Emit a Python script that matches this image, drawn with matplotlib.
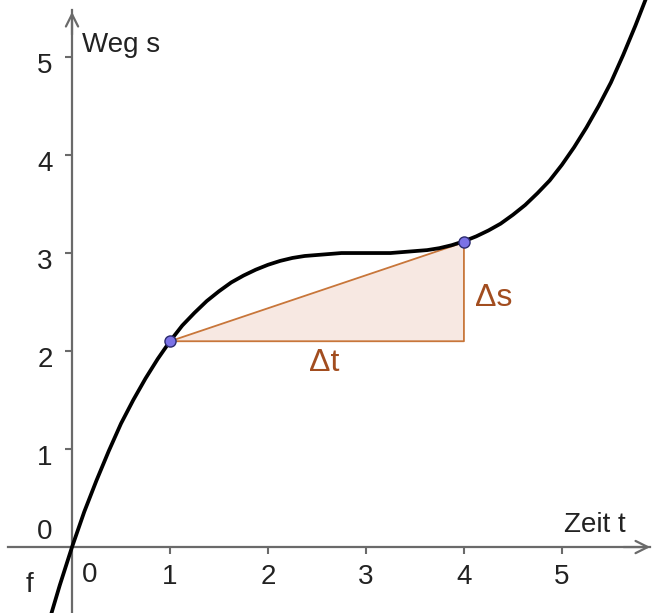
import matplotlib.pyplot as plt
import numpy as np
from matplotlib.transforms import ScaledTranslation

plt.rcParams['font.family'] = ['Liberation Sans', 'DejaVu Sans']

# curve s(t), values
t = np.array([-0.25, -0.125, 0.0, 0.125, 0.25, 0.375, 0.5, 0.625, 0.75, 0.875,
              1.0, 1.125, 1.25, 1.375, 1.5, 1.625, 1.75, 1.875, 2.0, 2.125,
              2.25, 2.375, 2.5, 2.625, 2.75, 2.875, 3.0, 3.125, 3.25, 3.375,
              3.5, 3.625, 3.75, 3.875, 4.0, 4.125, 4.25, 4.375, 4.5, 4.625,
              4.75, 4.875, 5.0, 5.125, 5.25, 5.375, 5.5, 5.625, 5.75, 5.875, 6.0])
s = np.array([-0.81, -0.39, 0.0, 0.36, 0.68, 0.98, 1.26, 1.50, 1.72, 1.92,
              2.10, 2.26, 2.39, 2.51, 2.61, 2.70, 2.77, 2.83, 2.88, 2.92,
              2.95, 2.97, 2.98, 2.99, 3.00, 3.00, 3.00, 3.00, 3.00, 3.01,
              3.02, 3.03, 3.05, 3.08, 3.12, 3.17, 3.23, 3.30, 3.39, 3.49,
              3.61, 3.74, 3.90, 4.08, 4.28, 4.50, 4.74, 5.02, 5.32, 5.64, 6.00])

# the two marked points
pts_t = [1, 4]
pts_s = [2.10, 3.11]

xticks = [1, 2, 3, 4, 5]
yticks = [1, 2, 3, 4, 5]

axis_col = '#6a6a6a'
tri_col = '#c8763a'
txt_col = '#a24d1f'
lab_col = '#222222'

fig = plt.figure(figsize=(6.54, 6.13), dpi=100)
ax = fig.add_axes([0, 0, 1, 1])
ax.set_xlim(-0.735, 5.94)
ax.set_ylim(-0.673, 5.582)

for side in ['top', 'right']:
    ax.spines[side].set_visible(False)
ax.spines['left'].set_position(('data', 0))
ax.spines['bottom'].set_position(('data', 0))
ax.spines['left'].set_bounds(-0.673, 5.48)
ax.spines['bottom'].set_bounds(-0.65, 5.9)
for side in ['left', 'bottom']:
    ax.spines[side].set_color(axis_col)
    ax.spines[side].set_linewidth(1.6)

# arrow heads
ax.annotate('', xy=(0, 5.49), xytext=(0, 5.2),
            arrowprops=dict(arrowstyle='->', color=axis_col, lw=1.6, mutation_scale=22))
ax.annotate('', xy=(5.93, 0), xytext=(5.6, 0),
            arrowprops=dict(arrowstyle='->', color=axis_col, lw=1.6, mutation_scale=22))

ax.set_xticks(xticks)
ax.set_yticks(yticks)
ax.set_xticklabels([str(v) for v in xticks])
ax.set_yticklabels([str(v) for v in yticks])
ax.tick_params(direction='out', length=5, width=1.5, color=axis_col, labelsize=20,
               labelcolor=lab_col)
ax.tick_params(axis='x', pad=7)
ax.tick_params(axis='y', pad=9)
for lab in ax.get_yticklabels():
    lab.set_transform(lab.get_transform() + ScaledTranslation(0, -4 / 72, fig.dpi_scale_trans))

# zero labels
ax.text(0.18, -0.29, '0', fontsize=20, color=lab_col, ha='center', va='center')
ax.text(-0.28, 0.15, '0', fontsize=20, color=lab_col, ha='center', va='center')

# axis names
ax.text(0.1, 5.12, 'Weg s', fontsize=20, color=lab_col, ha='left', va='center')
ax.text(5.65, 0.22, 'Zeit t', fontsize=20, color=lab_col, ha='right', va='center')
ax.text(-0.43, -0.39, 'f', fontsize=20, color=lab_col, ha='center', va='center')

# slope triangle
tri_t = [pts_t[0], pts_t[1], pts_t[1]]
tri_s = [pts_s[0], pts_s[0], pts_s[1]]
ax.fill(tri_t, tri_s, facecolor='#f3d9cf', alpha=0.6, edgecolor='none', zorder=2)
ax.plot(tri_t + [tri_t[0]], tri_s + [tri_s[0]], color=tri_col, lw=1.3, zorder=3)
ax.text(2.57, 1.88, '\u0394t', fontsize=23, color=txt_col, ha='center', va='center')
ax.text(4.3, 2.54, '\u0394s', fontsize=23, color=txt_col, ha='center', va='center')

# curve
ax.plot(t, s, color='black', lw=2.7, zorder=4, solid_capstyle='round',
        solid_joinstyle='round')
ax.plot(pts_t, pts_s, 'o', markersize=8, markerfacecolor='#7b72e6',
        markeredgecolor='#2b2a6e', markeredgewidth=1.0, zorder=5)

plt.savefig('out.png', dpi=100)
